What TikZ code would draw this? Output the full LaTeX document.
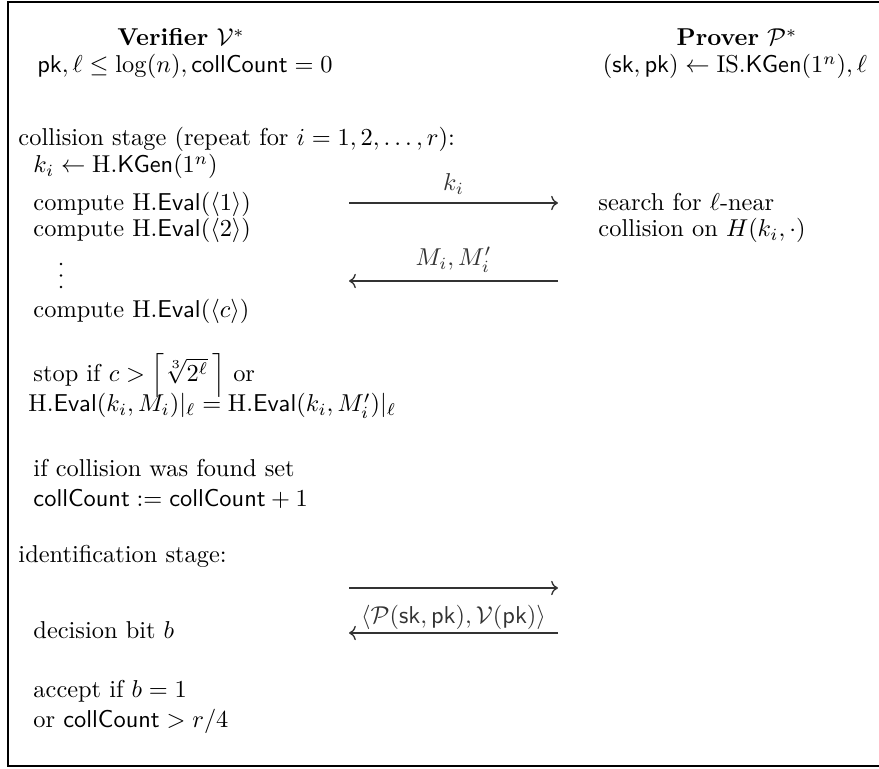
\documentclass[tikz,border=0pt]{standalone}
\usepackage{amsmath,amssymb}
\usepackage{tikz}
\usetikzlibrary{arrows.meta}

\newcommand{\pkey}{\mathsf{pk}}
\newcommand{\skey}{\mathsf{sk}}
\newcommand{\collc}{\mathsf{collCount}}
\newcommand{\HEval}{\mathrm{H}.\mathsf{Eval}}
\newcommand{\HKGen}{\mathrm{H}.\mathsf{KGen}}

\begin{document}
\begin{tikzpicture}[x=0.41pt, y=-0.41pt,
    txt/.style={anchor=base west, inner sep=0pt},
    head/.style={anchor=base, inner sep=0pt},
    msg/.style={-{Computer Modern Rightarrow}, line width=0.55pt, black!80}]
  \useasboundingbox (0,0) rectangle (879,769);
  % frame (open at the right)
  \draw[line width=1.1pt] (879,2) -- (8,2) -- (8,766) -- (879,766);
  % headers
  \node[head] (ver) at (181,46) {\textbf{Verifier} $\mathcal{V}^*$};
  \node[head] (verin) at (185,73) {$\pkey, \ell \le \log(n), \collc = 0$};
  \node[head] (prv) at (737,46) {\textbf{Prover} $\mathcal{P}^*$};
  \node[head] (prvin) at (735,73) {$(\skey,\pkey) \leftarrow \mathrm{IS}.\mathsf{KGen}(1^n), \ell$};
  % collision stage
  \node[txt] (cstage) at (18,146) {collision stage (repeat for $i = 1, 2, \ldots, r$):};
  \node[txt] (keygen) at (33,173) {$k_i \leftarrow \HKGen(1^n)$};
  \node[txt] (comp1) at (33,211) {compute $\HEval(\langle 1\rangle)$};
  \node[txt] (comp2) at (33,237) {compute $\HEval(\langle 2\rangle)$};
  % vertical dots
  \foreach \yy in {264,275.5,287}
    \fill (61,\yy) circle (0.6pt);
  \node[txt] (compc) at (33,318) {compute $\HEval(\langle c\rangle)$};
  \node[txt] (search) at (598,211) {search for $\ell$-near};
  \node[txt] (search2) at (598,237) {collision on $H(k_i,\cdot)$};
  % messages
  \coordinate (kiL) at (349,203);
  \coordinate (kiR) at (558,203);
  \draw[msg] (kiL) -- node[above] (kilab) {$k_i$} (kiR);
  \coordinate (mL) at (349,281);
  \coordinate (mR) at (558,281);
  \draw[msg] (mR) -- node[above] (mlab) {$M_i, M_i'$} (mL);
  % stop condition
  \node[txt] (stop) at (33,382) {stop if $c > \left\lceil \sqrt[3]{2^\ell}\, \right\rceil$ or};
  \node[txt] (stop2) at (28,412) {$\HEval(k_i, M_i)|_\ell = \HEval(k_i, M_i')|_\ell$};
  \node[txt] (found) at (33,477) {if collision was found set};
  \node[txt] (incr) at (33,507) {$\collc := \collc + 1$};
  % identification stage
  \node[txt] (istage) at (18,563) {identification stage:};
  \coordinate (iaL) at (349,588);
  \coordinate (iaR) at (558,588);
  \draw[msg] (iaL) -- (iaR);
  \coordinate (ibL) at (349,633);
  \coordinate (ibR) at (558,633);
  \draw[msg] (ibR) -- node[above, inner sep=1pt] (ilab)
    {$\langle \mathcal{P}(\skey,\pkey), \mathcal{V}(\pkey)\rangle$} (ibL);
  \node[txt] (bit) at (33,639) {decision bit $b$};
  \node[txt] (acc) at (33,698) {accept if $b = 1$};
  \node[txt] (acc2) at (33,728) {or $\collc > r/4$};
\end{tikzpicture}
\end{document}
